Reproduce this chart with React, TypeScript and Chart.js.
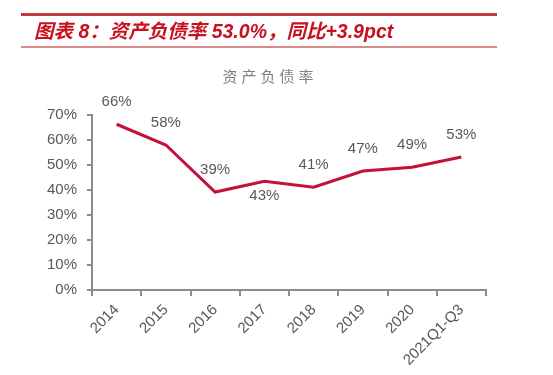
import React, { useEffect, useRef } from "react";
import { Chart, registerables } from "chart.js";

Chart.register(...registerables);

const categories = ["2014", "2015", "2016", "2017", "2018", "2019", "2020", "2021Q1-Q3"];
const debtRatio = [66.3, 58, 39.2, 43.5, 41.1, 47.6, 49.1, 53.2];
const pointLabels = ["66%", "58%", "39%", "43%", "41%", "47%", "49%", "53%"];
const labelSide = ["top", "top", "top", "bottom", "top", "top", "top", "top"];
const yTicks = [0, 10, 20, 30, 40, 50, 60, 70];

const headerText = "图表 8：资产负债率 53.0%，同比+3.9pct";
const chartTitle = "资产负债率";

const labelPlugin = {
  id: "pointLabels",
  afterDatasetsDraw(chart: any) {
    const ctx = chart.ctx;
    const meta = chart.getDatasetMeta(0);
    ctx.save();
    ctx.font = '15px "Liberation Sans", Arial, sans-serif';
    ctx.fillStyle = "#595959";
    ctx.textAlign = "center";
    ctx.textBaseline = "middle";
    meta.data.forEach((el: any, i: number) => {
      const dy = labelSide[i] === "bottom" ? 15 : -22;
      ctx.fillText(pointLabels[i], el.x, el.y + dy);
    });
    ctx.restore();
  },
};

export default function App() {
  const ref = useRef<HTMLCanvasElement>(null);
  useEffect(() => {
    if (!ref.current) return;
    const chart = new Chart(ref.current, {
      type: "line",
      data: {
        labels: categories,
        datasets: [
          {
            data: debtRatio,
            borderColor: "#C5113A",
            borderWidth: 3,
            pointRadius: 0,
            tension: 0,
            fill: false,
          },
        ],
      },
      options: {
        animation: false,
        responsive: false,
        maintainAspectRatio: false,
        layout: { padding: { top: 115, right: 67, left: 0, bottom: 0 } },
        plugins: {
          legend: { display: false },
          title: { display: false },
          tooltip: { enabled: false },
        },
        scales: {
          x: {
            type: "category",
            offset: true,
            afterFit(scale: any) {
              scale.height = 85;
            },
            grid: {
              offset: true,
              drawOnChartArea: false,
              drawTicks: true,
              tickLength: 6,
              color: "#8c8c8c",
              lineWidth: 2,
            },
            border: { display: true, color: "#8c8c8c", width: 2 },
            ticks: {
              color: "#595959",
              font: { family: '"Liberation Sans", Arial, sans-serif', size: 15 },
              maxRotation: 45,
              minRotation: 45,
              padding: 5,
              autoSkip: false,
            },
          },
          y: {
            min: 0,
            max: 70,
            afterFit(scale: any) {
              scale.width = 92;
            },
            afterBuildTicks(scale: any) {
              scale.ticks = yTicks.map((v) => ({ value: v }));
            },
            grid: {
              drawOnChartArea: false,
              drawTicks: true,
              tickLength: 5,
              color: "#8c8c8c",
              lineWidth: 2,
            },
            border: { display: true, color: "#8c8c8c", width: 2 },
            ticks: {
              color: "#595959",
              font: { family: '"Liberation Sans", Arial, sans-serif', size: 15 },
              padding: 10,
              callback: (v: any) => v + "%",
            },
          },
        },
      },
      plugins: [labelPlugin],
    });
    return () => chart.destroy();
  }, []);

  return (
    <div style={{ position: "fixed", left: 0, top: 0, width: 553, height: 375, background: "#fff", overflow: "hidden" }}>
      <canvas ref={ref} width={553} height={375} style={{ position: "absolute", left: 0, top: 0, width: 553, height: 375 }} />
      <div style={{ position: "absolute", left: 21, top: 13, width: 476, height: 3, background: "#C23A3A" }} />
      <div
        style={{
          position: "absolute",
          left: 34,
          top: 19,
          fontFamily: '"Liberation Sans", "Noto Sans CJK SC", sans-serif',
          fontWeight: "bold",
          fontStyle: "italic",
          fontSize: 19.5,
          lineHeight: "24px",
          color: "#C8101E",
          whiteSpace: "nowrap",
        }}
      >
        {headerText}
      </div>
      <div style={{ position: "absolute", left: 21, top: 46, width: 476, height: 2, background: "#D88A8A" }} />
      <div
        style={{
          position: "absolute",
          left: 0,
          width: 540,
          top: 65,
          textAlign: "center",
          fontFamily: '"Noto Sans CJK SC", sans-serif',
          fontWeight: 400,
          fontSize: 15,
          lineHeight: "22px",
          letterSpacing: 4,
          color: "#7f7f7f",
          whiteSpace: "nowrap",
        }}
      >
        {chartTitle}
      </div>
    </div>
  );
}
